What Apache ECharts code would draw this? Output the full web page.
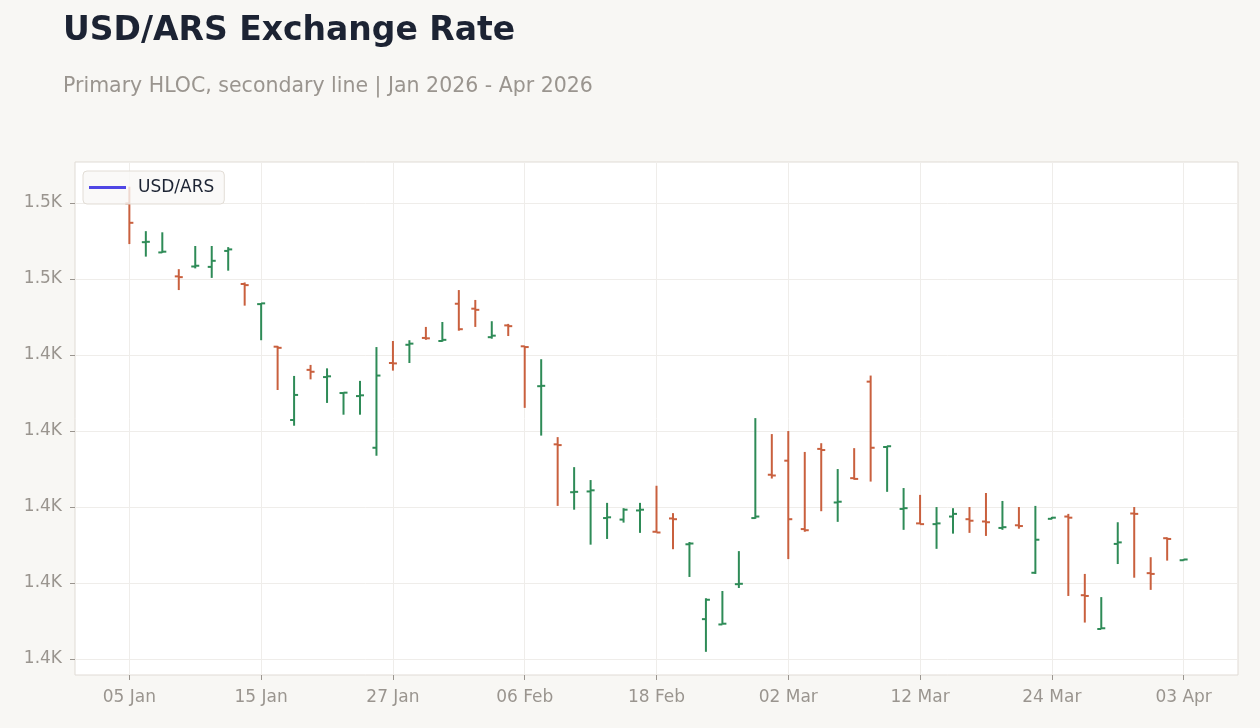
<!DOCTYPE html>
<html>
<head>
<meta charset="utf-8">
<title>USD/ARS Exchange Rate</title>
<script src="https://cdn.jsdelivr.net/npm/echarts@6/dist/echarts.min.js"></script>
<style>
  html, body { margin: 0; padding: 0; background: #f8f7f4; }
  #chart { width: 1260px; height: 728px; }
</style>
</head>
<body>
<div id="chart"></div>
<script>
// trading days, Jan - Apr 2026
var dates = ['05 Jan','06 Jan','07 Jan','08 Jan','09 Jan','12 Jan','13 Jan','14 Jan','15 Jan','16 Jan',
  '19 Jan','20 Jan','21 Jan','22 Jan','23 Jan','26 Jan','27 Jan','28 Jan','29 Jan','30 Jan',
  '02 Feb','03 Feb','04 Feb','05 Feb','06 Feb','09 Feb','10 Feb','11 Feb','12 Feb','13 Feb',
  '16 Feb','17 Feb','18 Feb','19 Feb','20 Feb','23 Feb','24 Feb','25 Feb','26 Feb','27 Feb',
  '02 Mar','03 Mar','04 Mar','05 Mar','06 Mar','09 Mar','10 Mar','11 Mar','12 Mar','13 Mar',
  '16 Mar','17 Mar','18 Mar','19 Mar','20 Mar','23 Mar','24 Mar','25 Mar','26 Mar','27 Mar',
  '30 Mar','31 Mar','01 Apr','02 Apr','03 Apr'];

var opens = [1479.9,1469.7,1467.0,1460.7,1463.3,1463.2,1467.4,1458.7,1453.4,1442.2,
  1422.9,1436.1,1434.2,1430.0,1429.2,1415.6,1437.9,1442.7,1444.5,1443.7,
  1453.5,1452.2,1444.7,1447.8,1442.3,1431.8,1416.5,1403.9,1404.1,1397.1,
  1396.7,1399.1,1393.5,1397.0,1390.2,1370.5,1369.1,1379.7,1397.1,1408.5,
  1412.2,1394.2,1415.3,1401.2,1407.6,1433.0,1415.8,1399.5,1395.7,1395.5,
  1397.5,1396.8,1396.2,1394.5,1395.2,1382.7,1396.9,1397.5,1376.8,1367.9,
  1390.3,1398.3,1382.6,1391.8,1386.0];

var highs = [1484.3,1472.6,1472.3,1462.6,1468.7,1468.7,1468.4,1459.1,1453.7,1442.4,
  1434.5,1437.4,1436.5,1430.2,1433.2,1442.1,1443.7,1443.9,1447.4,1448.7,
  1457.1,1454.5,1448.9,1448.2,1442.4,1438.9,1418.4,1410.5,1407.1,1401.1,
  1399.7,1401.1,1405.6,1398.4,1390.8,1376.0,1377.9,1388.4,1423.4,1419.2,
  1420.0,1414.5,1416.8,1410.0,1415.5,1434.6,1416.1,1405.0,1403.2,1400.0,
  1399.7,1400.0,1403.7,1401.6,1400.0,1400.3,1397.4,1398.2,1382.4,1376.3,
  1396.0,1400.0,1386.8,1392.0,1386.3];

var lows = [1469.2,1465.9,1466.9,1457.1,1462.8,1460.3,1462.2,1453.0,1443.9,1430.8,
  1421.4,1433.6,1427.4,1424.3,1424.3,1413.5,1435.9,1437.9,1444.0,1443.5,
  1446.4,1447.4,1444.3,1445.0,1426.1,1418.8,1400.3,1399.3,1390.1,1391.6,
  1395.9,1393.2,1393.3,1388.9,1381.6,1361.9,1369.1,1378.7,1396.9,1407.5,
  1386.3,1393.5,1398.9,1396.1,1407.2,1406.7,1404.0,1394.0,1395.5,1389.0,
  1393.0,1393.2,1392.4,1394.0,1394.3,1382.4,1396.8,1376.6,1369.6,1367.9,
  1385.0,1381.4,1378.2,1385.9,1385.9];

var closes = [1474.8,1469.8,1467.2,1460.5,1463.5,1464.8,1467.8,1458.4,1453.6,1441.9,
  1429.5,1435.6,1434.4,1430.1,1429.4,1434.6,1437.8,1443.0,1444.4,1444.0,
  1446.8,1451.9,1445.1,1447.6,1442.1,1431.9,1416.3,1404.0,1404.4,1397.3,
  1399.3,1399.3,1393.3,1396.8,1390.4,1375.6,1369.3,1379.8,1397.5,1408.3,
  1396.8,1393.9,1415.0,1401.4,1407.4,1415.6,1416.0,1399.7,1395.5,1395.7,
  1398.2,1396.4,1396.0,1394.7,1395.0,1391.4,1397.2,1397.2,1376.6,1368.1,
  1390.7,1398.2,1382.4,1391.6,1386.2];

var xTickIdx = [0, 8, 16, 24, 32, 40, 48, 56, 64];
var yTicks = [1360, 1380, 1400, 1420, 1440, 1460, 1480];

var upColor = '#2e8b57';
var downColor = '#c9603e';
var lineColor = '#4f46e5';
var muted = '#9a958f';

var ohlc = dates.map(function (d, i) {
  return [i, opens[i], closes[i], lows[i], highs[i]];
});

function renderOhlc(params, api) {
  var x = api.value(0);
  var o = api.coord([x, api.value(1)]);
  var c = api.coord([x, api.value(2)]);
  var l = api.coord([x, api.value(3)]);
  var h = api.coord([x, api.value(4)]);
  var up = api.value(2) >= api.value(1);
  var st = { stroke: up ? upColor : downColor, lineWidth: 2 };
  return {
    type: 'group',
    children: [
      { type: 'line', shape: { x1: h[0], y1: h[1], x2: l[0], y2: l[1] }, style: st },
      { type: 'line', shape: { x1: o[0] - 4, y1: o[1], x2: o[0], y2: o[1] }, style: st },
      { type: 'line', shape: { x1: c[0], y1: c[1], x2: c[0] + 4, y2: c[1] }, style: st }
    ]
  };
}

var chart = echarts.init(document.getElementById('chart'));
chart.setOption({
  backgroundColor: '#f8f7f4',
  animation: false,
  textStyle: { fontFamily: 'DejaVu Sans' },
  title: {
    text: 'USD/ARS Exchange Rate',
    subtext: 'Primary HLOC, secondary line | Jan 2026 - Apr 2026',
    left: 63,
    top: 15,
    padding: 0,
    itemGap: 28,
    textStyle: { fontSize: 33, fontWeight: 'bold', color: '#1c2333' },
    subtextStyle: { fontSize: 20.5, color: muted }
  },
  legend: {
    left: 83,
    top: 171,
    padding: [8, 10, 8, 6],
    itemWidth: 37,
    itemHeight: 3,
    icon: 'rect',
    backgroundColor: 'rgba(249,248,246,0.8)',
    borderColor: '#e2ddd6',
    borderWidth: 1,
    borderRadius: 4,
    textStyle: { fontSize: 17, color: '#1c2333', padding: [0, 0, 0, 7] },
    data: [{ name: 'USD/ARS', itemStyle: { color: lineColor } }]
  },
  grid: {
    left: 75, right: 22, top: 162, bottom: 53,
    show: true,
    backgroundColor: '#ffffff',
    borderColor: '#e0dbd5',
    borderWidth: 1
  },
  xAxis: {
    type: 'value',
    min: -3.3,
    max: 67.3,
    minInterval: 8,
    maxInterval: 8,
    axisLine: { show: false, onZero: false },
    axisTick: { show: true, length: 5, customValues: xTickIdx, lineStyle: { color: muted } },
    axisLabel: {
      customValues: xTickIdx,
      color: muted, fontSize: 17, margin: 14,
      formatter: function (v) { return dates[v] || ''; }
    },
    splitLine: { show: true, lineStyle: { color: '#efedea' } }
  },
  yAxis: {
    type: 'value',
    min: 1355.8,
    max: 1490.8,
    minInterval: 20,
    maxInterval: 20,
    axisLine: { show: false, onZero: false },
    axisTick: { show: true, length: 5, customValues: yTicks, lineStyle: { color: muted } },
    axisLabel: {
      customValues: yTicks,
      color: muted, fontSize: 17, margin: 13,
      formatter: function (v) { return (v / 1000).toFixed(1) + 'K'; }
    },
    splitLine: { show: true, lineStyle: { color: '#efedea' } }
  },
  series: [
    {
      name: 'HLOC',
      type: 'custom',
      renderItem: renderOhlc,
      encode: { x: 0, y: [1, 2, 3, 4] },
      data: ohlc,
      z: 2
    },
    {
      name: 'USD/ARS',
      type: 'line',
      showSymbol: false,
      lineStyle: { color: lineColor, width: 2 },
      itemStyle: { color: lineColor },
      data: []
    }
  ]
});
</script>
</body>
</html>
